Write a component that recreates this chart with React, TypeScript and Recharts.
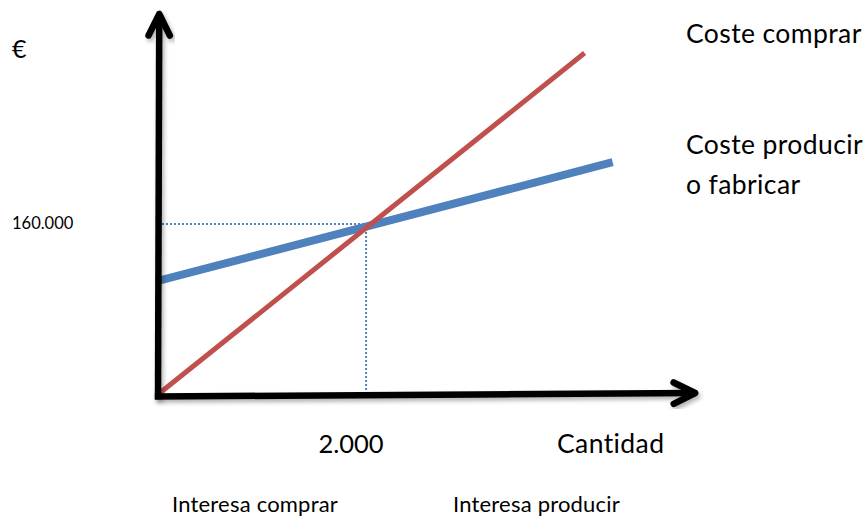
import React from 'react';
import { ComposedChart, Line, XAxis, YAxis, ReferenceLine } from 'recharts';

// coste de comprar y coste de producir según la cantidad
const cantidadComprar = [20, 4100];
const costeComprar = [3000, 319000];
const cantidadProducir = [0, 4370];
const costeProducir = [107000, 217500];

// punto de equilibrio
const cantidadEquilibrio = 2000;
const costeEquilibrio = 160000;

const xTicks = [2000];
const yTicks = [160000];

// trazado de los ejes (con flecha al final)
const ejeXCantidad = [-30, 5163];
const ejeXCoste = [-500, 2800];
const ejeYCantidad = [0, 12];
const ejeYCoste = [-3000, 355350];

const dataComprar = cantidadComprar.map((c, i) => ({ cantidad: c, coste: costeComprar[i] }));
const dataProducir = cantidadProducir.map((c, i) => ({ cantidad: c, coste: costeProducir[i] }));

const ROJO = '#c0504d';
const AZUL = '#4f81bd';
const FONT = 'Lato, "Open Sans", sans-serif';

const miles = (v: number) => String(v).replace(/\B(?=(\d{3})+(?!\d))/g, '.');

const Flecha = (props: any) => {
  const { x1, y1, x2, y2 } = props;
  const ang = Math.atan2(y2 - y1, x2 - x1);
  const len = 24;
  const abre = 0.46;
  const a1 = ang + Math.PI - abre;
  const a2 = ang + Math.PI + abre;
  const p1 = `${x2 + len * Math.cos(a1)},${y2 + len * Math.sin(a1)}`;
  const p2 = `${x2 + len * Math.cos(a2)},${y2 + len * Math.sin(a2)}`;
  return (
    <g filter="url(#sombra)">
      <line x1={x1} y1={y1} x2={x2} y2={y2} stroke="#000" strokeWidth={6.5} />
      <polyline
        points={`${p1} ${x2},${y2} ${p2}`}
        fill="none"
        stroke="#000"
        strokeWidth={6.5}
        strokeLinecap="round"
        strokeLinejoin="round"
      />
    </g>
  );
};

const TickX = ({ x, y, payload }: any) => (
  <text
    x={x - 15}
    y={y + 49}
    textAnchor="middle"
    fontFamily={FONT}
    fontSize={25.5}
    fill="#000"
    style={{ fontVariantLigatures: 'none' }}
  >
    {miles(payload.value)}
  </text>
);

const TickY = ({ y, payload }: any) => (
  <text x={12} y={y + 5} textAnchor="start" fontFamily={FONT} fontSize={16.5} fill="#000">
    {miles(payload.value)}
  </text>
);

const textos = [
  { t: '€', x: 12, y: 58, s: 25, ls: 0 },
  { t: 'Coste comprar', x: 686, y: 43, s: 26.5, ls: 0.4 },
  { t: 'Coste producir', x: 686, y: 154, s: 26.5, ls: 0.4 },
  { t: 'o fabricar', x: 686, y: 194, s: 26.5, ls: 0.4 },
  { t: 'Cantidad', x: 557, y: 453, s: 26.5, ls: 0.4 },
  { t: 'Interesa comprar', x: 172, y: 512, s: 22, ls: 0.2 },
  { t: 'Interesa producir', x: 453, y: 512, s: 22, ls: 0.2 },
];

export default function App() {
  return (
    <div style={{ position: 'absolute', left: 0, top: 0, width: 863, height: 518, background: '#fff' }}>
      <svg width={0} height={0} style={{ position: 'absolute' }}>
        <defs>
          <filter id="sombra" x="-20%" y="-20%" width="140%" height="140%">
            <feDropShadow dx={2} dy={3} stdDeviation={2} floodColor="#000" floodOpacity={0.3} />
          </filter>
        </defs>
      </svg>
      <ComposedChart width={863} height={518} margin={{ top: 9, right: 164, bottom: 92, left: 98 }}>
        <XAxis
          dataKey="cantidad"
          type="number"
          domain={[0, 5200]}
          ticks={xTicks}
          axisLine={false}
          tickLine={false}
          tick={TickX}
          height={30}
          allowDataOverflow
        />
        <YAxis
          type="number"
          domain={[0, 360000]}
          ticks={yTicks}
          axisLine={false}
          tickLine={false}
          tick={TickY}
          width={60}
          allowDataOverflow
        />
        <ReferenceLine
          segment={[
            { x: 0, y: costeEquilibrio },
            { x: cantidadEquilibrio, y: costeEquilibrio },
          ]}
          stroke={AZUL}
          strokeWidth={2}
          strokeDasharray="2 2"
          ifOverflow="visible"
        />
        <ReferenceLine
          segment={[
            { x: cantidadEquilibrio, y: costeEquilibrio },
            { x: cantidadEquilibrio, y: 5600 },
          ]}
          stroke={AZUL}
          strokeWidth={2}
          strokeDasharray="2 2"
          ifOverflow="visible"
        />
        <Line
          data={dataProducir}
          dataKey="coste"
          stroke={AZUL}
          strokeWidth={8}
          dot={false}
          activeDot={false}
          isAnimationActive={false}
        />
        <Line
          data={dataComprar}
          dataKey="coste"
          stroke={ROJO}
          strokeWidth={5}
          dot={false}
          activeDot={false}
          isAnimationActive={false}
        />
        <ReferenceLine
          segment={[
            { x: ejeYCantidad[0], y: ejeYCoste[0] },
            { x: ejeYCantidad[1], y: ejeYCoste[1] },
          ]}
          ifOverflow="visible"
          shape={Flecha}
        />
        <ReferenceLine
          segment={[
            { x: ejeXCantidad[0], y: ejeXCoste[0] },
            { x: ejeXCantidad[1], y: ejeXCoste[1] },
          ]}
          ifOverflow="visible"
          shape={Flecha}
        />
      </ComposedChart>
      <svg width={863} height={518} style={{ position: 'absolute', left: 0, top: 0, pointerEvents: 'none' }}>
        {textos.map((d) => (
          <text
            key={d.t}
            x={d.x}
            y={d.y}
            fontFamily={FONT}
            fontSize={d.s}
            letterSpacing={d.ls}
            fill="#000"
            style={{ fontVariantLigatures: 'none' }}
          >
            {d.t}
          </text>
        ))}
      </svg>
    </div>
  );
}
